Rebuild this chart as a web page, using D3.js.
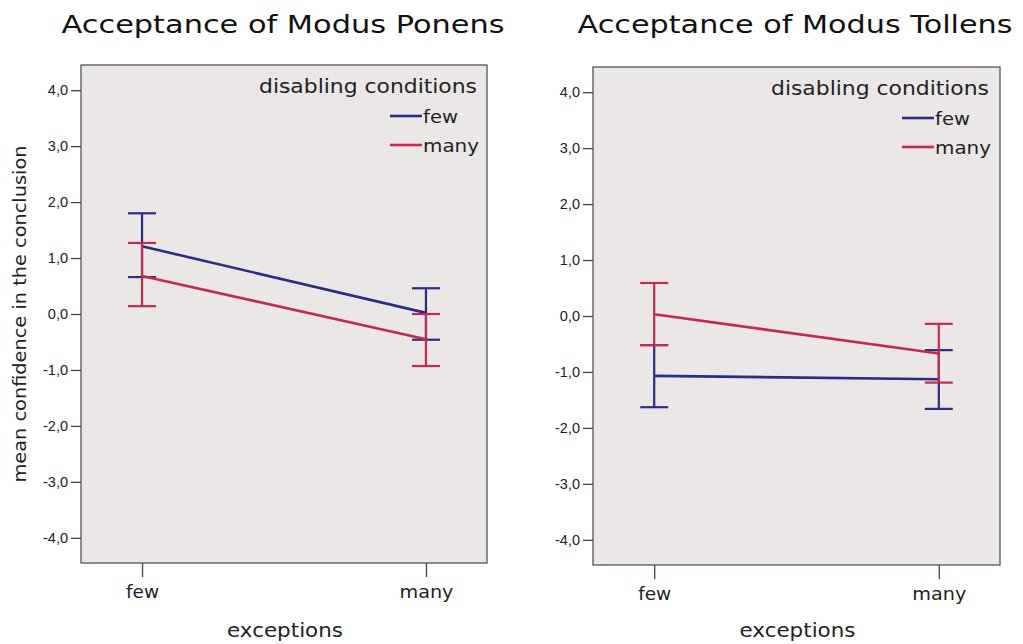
<!DOCTYPE html>
<html><head><meta charset="utf-8">
<script src="https://cdn.jsdelivr.net/npm/d3@7"></script>
<style>
html,body{margin:0;padding:0;background:#fff;}
svg{display:block;}
</style></head>
<body>
<svg id="chart" width="1023" height="644"></svg>
<script>
// ---- data ----
const categories = ["few", "many"];          // exceptions
const seriesNames = ["few", "many"];         // disabling conditions
const yTicks = [4, 3, 2, 1, 0, -1, -2, -3, -4];
const titles = ["Acceptance of Modus Ponens", "Acceptance of Modus Tollens"];

// Modus Ponens
const mpFewMean  = [1.21, 0.02];
const mpFewLow   = [0.66, -0.46];
const mpFewHigh  = [1.80, 0.46];
const mpManyMean = [0.68, -0.45];
const mpManyLow  = [0.14, -0.93];
const mpManyHigh = [1.27, 0.00];
// Modus Tollens
const mtFewMean  = [-1.07, -1.13];
const mtFewLow   = [-1.63, -1.66];
const mtFewHigh  = [-0.52, -0.61];
const mtManyMean = [0.03, -0.67];
const mtManyLow  = [-0.52, -1.19];
const mtManyHigh = [0.59, -0.14];

const colors = ["#2b2c86", "#c42a4f"];

const panels = [
  {title: titles[0], titleW: 443, x0: 81, x1: 487, y0: 65, y1: 563, titleX: 283, yLabel: true, legendRight: 477,
   series: [
     {name: seriesNames[0], mean: mpFewMean, lo: mpFewLow, hi: mpFewHigh},
     {name: seriesNames[1], mean: mpManyMean, lo: mpManyLow, hi: mpManyHigh}]},
  {title: titles[1], titleW: 435, x0: 593, x1: 1000, y0: 67, y1: 565, titleX: 795, yLabel: false, legendRight: 989,
   series: [
     {name: seriesNames[0], mean: mtFewMean, lo: mtFewLow, hi: mtFewHigh},
     {name: seriesNames[1], mean: mtManyMean, lo: mtManyLow, hi: mtManyHigh}]}
];

const svg = d3.select("#chart");
const titleFont = "'DejaVu Sans', Lato, sans-serif";
const tickFont = "'Liberation Sans', Arial, sans-serif";
const wordW = {few: 33, many: 54};
const LA = "spacingAndGlyphs";

panels.forEach(p => {
  const g = svg.append("g");
  const x = d3.scalePoint().domain(categories).range([p.x0, p.x1]).padding(0.215);
  const y = d3.scaleLinear().domain([-4.45, 4.45]).range([p.y1, p.y0]);

  // title
  g.append("text").attr("x", p.titleX).attr("y", 33).attr("text-anchor", "middle")
    .attr("font-family", titleFont).attr("font-size", 25).attr("fill", "#111")
    .attr("textLength", p.titleW).attr("lengthAdjust", LA).text(p.title);

  // plot box
  g.append("rect").attr("x", p.x0).attr("y", p.y0).attr("width", p.x1 - p.x0).attr("height", p.y1 - p.y0)
    .attr("fill", "#ebe7e7").attr("stroke", "#555").attr("stroke-width", 1.3);

  // y axis
  const yAxis = d3.axisLeft(y).tickValues(yTicks).tickSize(10).tickPadding(3)
    .tickFormat(d => d3.format(".1f")(d).replace(".", ",").replace("−", "-"));
  const ya = g.append("g").attr("transform", `translate(${p.x0},0)`).call(yAxis);
  ya.select(".domain").remove();
  ya.selectAll(".tick line").attr("stroke", "#444").attr("stroke-width", 1.3);
  ya.selectAll(".tick text").attr("font-family", tickFont).attr("font-size", 14.5).attr("fill", "#222");

  // x axis
  const xAxis = d3.axisBottom(x).tickSize(14).tickPadding(8);
  const xa = g.append("g").attr("transform", `translate(0,${p.y1})`).call(xAxis);
  xa.select(".domain").remove();
  xa.selectAll(".tick line").attr("stroke", "#444").attr("stroke-width", 1.3);
  xa.selectAll(".tick text").attr("font-family", titleFont).attr("font-size", 18).attr("fill", "#222")
    .attr("textLength", d => wordW[d]).attr("lengthAdjust", LA);

  // x title
  g.append("text").attr("x", (p.x0 + p.x1) / 2 + 1).attr("y", 637).attr("text-anchor", "middle")
    .attr("font-family", titleFont).attr("font-size", 20).attr("fill", "#222")
    .attr("textLength", 116).attr("lengthAdjust", LA).text("exceptions");

  if (p.yLabel) {
    g.append("text").attr("transform", `translate(26,${(p.y0 + p.y1) / 2}) rotate(-90)`)
      .attr("text-anchor", "middle").attr("font-family", titleFont).attr("font-size", 17.5)
      .attr("fill", "#222").attr("textLength", 337).attr("lengthAdjust", LA)
      .text("mean confidence in the conclusion");
  }

  // series
  const capW = 14;
  p.series.forEach((s, i) => {
    const c = colors[i];
    const pts = categories.map((cat, j) => ({cat, m: s.mean[j], lo: s.lo[j], hi: s.hi[j]}));
    const sg = g.append("g");
    sg.append("path").datum(pts)
      .attr("d", d3.line().x(d => x(d.cat)).y(d => y(d.m)))
      .attr("fill", "none").attr("stroke", c).attr("stroke-width", 2.6);
    const eb = sg.selectAll(".eb").data(pts).enter().append("g");
    eb.append("line").attr("x1", d => x(d.cat)).attr("x2", d => x(d.cat))
      .attr("y1", d => y(d.lo)).attr("y2", d => y(d.hi)).attr("stroke", c).attr("stroke-width", 2.2);
    eb.append("line").attr("x1", d => x(d.cat) - capW).attr("x2", d => x(d.cat) + capW)
      .attr("y1", d => y(d.hi)).attr("y2", d => y(d.hi)).attr("stroke", c).attr("stroke-width", 2.2);
    eb.append("line").attr("x1", d => x(d.cat) - capW).attr("x2", d => x(d.cat) + capW)
      .attr("y1", d => y(d.lo)).attr("y2", d => y(d.lo)).attr("stroke", c).attr("stroke-width", 2.2);
  });

  // legend
  const lg = g.append("g");
  const top = p.y0;
  lg.append("text").attr("x", p.legendRight).attr("y", top + 28).attr("text-anchor", "end")
    .attr("font-family", titleFont).attr("font-size", 20).attr("fill", "#222")
    .attr("textLength", 218).attr("lengthAdjust", LA).text("disabling conditions");
  p.series.forEach((s, i) => {
    const ly = top + 51 + i * 29;
    const lx = p.legendRight - 87;
    lg.append("line").attr("x1", lx).attr("x2", lx + 32).attr("y1", ly).attr("y2", ly)
      .attr("stroke", colors[i]).attr("stroke-width", 2.6);
    lg.append("text").attr("x", lx + 33).attr("y", ly + 7).attr("font-family", titleFont)
      .attr("font-size", 18).attr("fill", "#222")
      .attr("textLength", i === 0 ? 35 : 56).attr("lengthAdjust", LA).text(s.name);
  });
});
</script>
</body></html>
